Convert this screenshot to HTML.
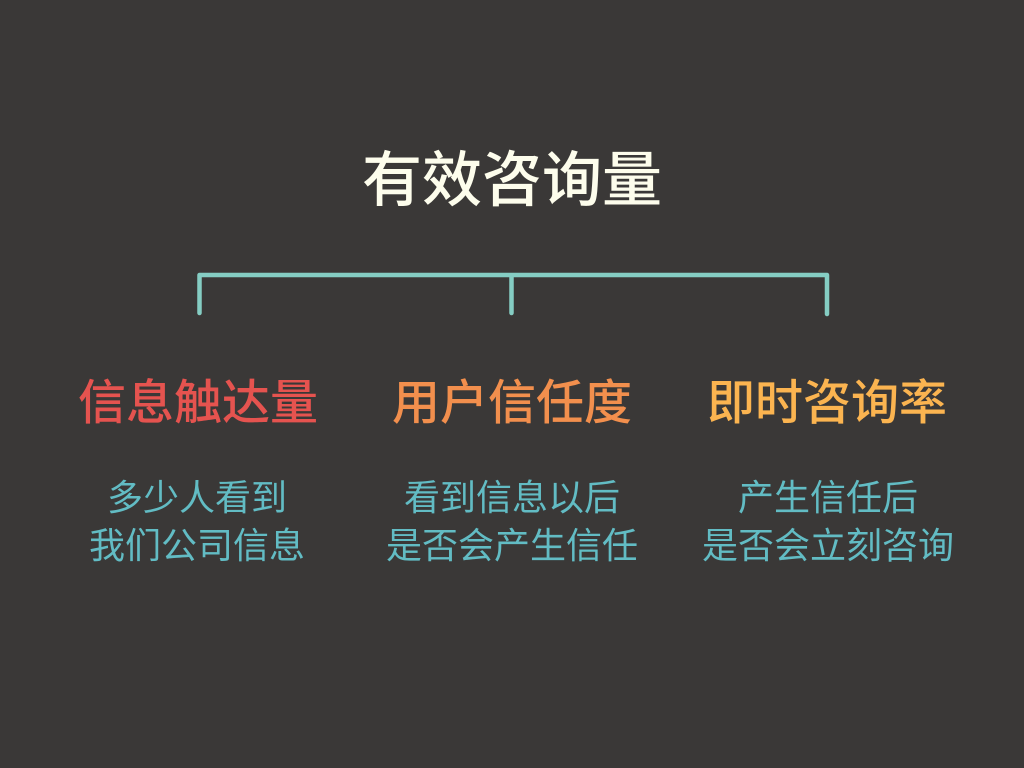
<!DOCTYPE html>
<html><head><meta charset="utf-8"><style>
html,body{margin:0;padding:0;width:1024px;height:768px;overflow:hidden;background:#3a3837}
.t{position:absolute;white-space:nowrap;text-align:center;transform:translateX(-50%);font-family:"Liberation Sans","Noto Sans CJK SC",sans-serif;}
.h{font-size:48px;line-height:60px;font-weight:500;top:374px}
.s{font-size:36px;line-height:48px;font-weight:400;top:474px;color:#62bcc4}
</style></head><body>
<div class="t" style="left:512px;top:143px;font-size:60px;line-height:76px;font-weight:500;color:#fdfdec">有效咨询量</div>
<svg width="1024" height="768" style="position:absolute;left:0;top:0">
<path d="M199.5 313V275H827V314M511.5 275V313" fill="none" stroke="#85cdc3" stroke-width="4.5" stroke-linecap="round" stroke-linejoin="round"/>
</svg>
<div class="t h" style="left:198px;color:#e5534f">信息触达量</div>
<div class="t h" style="left:512px;color:#f28f4d">用户信任度</div>
<div class="t h" style="left:827px;color:#fbb450">即时咨询率</div>
<div class="t s" style="left:197px">多少人看到<br>我们公司信息</div>
<div class="t s" style="left:512px">看到信息以后<br>是否会产生信任</div>
<div class="t s" style="left:828px">产生信任后<br>是否会立刻咨询</div>
</body></html>
